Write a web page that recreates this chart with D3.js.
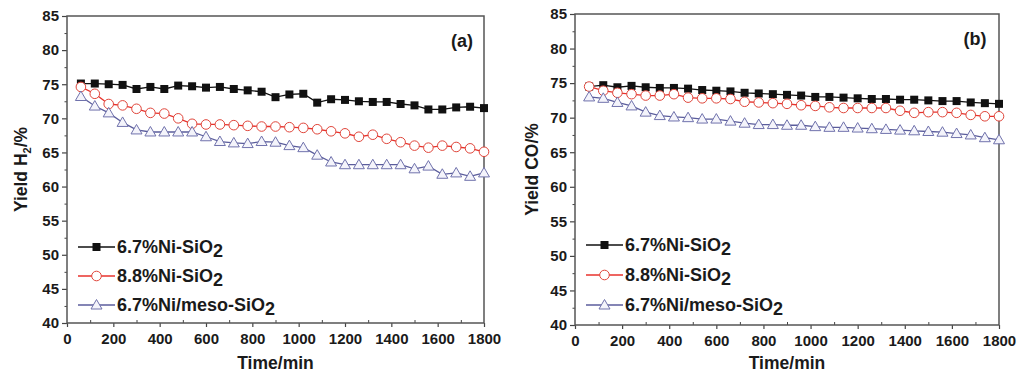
<!DOCTYPE html>
<html>
<head>
<meta charset="utf-8">
<script src="https://cdn.jsdelivr.net/npm/d3@7"></script>
<style>
  body { margin: 0; background: #fff; }
  svg { display: block; font-family: "Liberation Sans", Arial, sans-serif; font-weight: bold; }
</style>
</head>
<body>
<div id="plot"></div>
<script>
// time points (min)
var times = [60, 120, 180, 240, 300, 360, 420, 480, 540, 600, 660, 720, 780, 840, 900,
  960, 1020, 1080, 1140, 1200, 1260, 1320, 1380, 1440, 1500, 1560, 1620, 1680, 1740, 1800];

var seriesNames = ["6.7%Ni-SiO", "8.8%Ni-SiO", "6.7%Ni/meso-SiO"];

// panel (a) H2 yield
var h2Ni67 = [75.1, 75.1, 75.0, 74.9, 74.3, 74.6, 74.3, 74.8, 74.7, 74.5, 74.6, 74.3, 74.1, 73.9, 73.1,
  73.5, 73.6, 72.3, 72.8, 72.7, 72.5, 72.4, 72.4, 72.1, 71.9, 71.3, 71.3, 71.6, 71.7, 71.5];
var h2Ni88 = [74.6, 73.6, 72.1, 71.9, 71.4, 70.8, 70.7, 70.0, 69.2, 69.1, 69.1, 69.0, 68.9, 68.8, 68.8,
  68.7, 68.6, 68.4, 68.1, 67.8, 67.3, 67.6, 67.0, 66.5, 66.0, 65.7, 66.0, 65.8, 65.6, 65.1];
var h2Meso = [73.2, 71.8, 70.8, 69.4, 68.3, 68.0, 68.0, 68.0, 68.0, 67.3, 66.6, 66.4, 66.3, 66.6, 66.5,
  66.0, 65.7, 64.6, 63.6, 63.2, 63.2, 63.2, 63.2, 63.2, 62.6, 63.0, 61.8, 62.0, 61.5, 62.0];

// panel (b) CO yield
var coNi67 = [74.5, 74.7, 74.4, 74.6, 74.4, 74.3, 74.3, 74.2, 74.0, 73.9, 73.8, 73.6, 73.5, 73.4, 73.3,
  73.2, 73.0, 73.0, 72.9, 72.8, 72.7, 72.7, 72.6, 72.6, 72.5, 72.4, 72.4, 72.2, 72.1, 72.0];
var coNi88 = [74.5, 73.9, 73.6, 73.4, 73.2, 73.2, 73.4, 72.9, 72.8, 72.8, 72.7, 72.3, 72.2, 72.1, 72.0,
  71.8, 71.7, 71.5, 71.4, 71.4, 71.4, 71.4, 71.0, 70.7, 70.8, 70.8, 70.7, 70.4, 70.2, 70.2];
var coMeso = [73.0, 72.8, 72.2, 71.7, 70.8, 70.3, 70.1, 70.0, 69.8, 69.8, 69.5, 69.2, 69.0, 69.0, 68.9,
  68.9, 68.7, 68.6, 68.6, 68.5, 68.4, 68.3, 68.2, 68.1, 68.0, 67.9, 67.7, 67.5, 67.1, 66.8];

var xTicks = [0, 200, 400, 600, 800, 1000, 1200, 1400, 1600, 1800];
var yTicks = [40, 45, 50, 55, 60, 65, 70, 75, 80, 85];

var styles = [
  { line: "#111111", stroke: "#111111", fill: "#111111", shape: "square" },
  { line: "#e8322c", stroke: "#e0453a", fill: "#ffffff", shape: "circle" },
  { line: "#5b5d9c", stroke: "#7072ac", fill: "#f4f4fb", shape: "triangle" }
];

var svg = d3.select("#plot").append("svg")
  .attr("width", 1024)
  .attr("height", 378);

var drawMarker = function (g, st, cx, cy) {
  if (st.shape === "square") {
    g.append("rect").attr("x", cx - 4).attr("y", cy - 4).attr("width", 8).attr("height", 8)
      .attr("fill", st.fill);
  } else if (st.shape === "circle") {
    g.append("circle").attr("cx", cx).attr("cy", cy).attr("r", 4.8)
      .attr("fill", st.fill).attr("stroke", st.stroke).attr("stroke-width", 1);
  } else {
    g.append("path")
      .attr("d", "M" + cx + "," + (cy - 5.5) + "L" + (cx + 5.5) + "," + (cy + 4) + "L" + (cx - 5.5) + "," + (cy + 4) + "Z")
      .attr("fill", st.fill).attr("stroke", st.stroke).attr("stroke-width", 1);
  }
};

var drawPanel = function (cfg) {
  var x = d3.scaleLinear().domain([0, 1800]).range([cfg.left, cfg.right]);
  var y = d3.scaleLinear().domain([40, 85]).range([cfg.bottom, cfg.top]);
  var g = svg.append("g");

  // minor ticks
  var yMinor = yTicks.slice(0, -1).map(function (t) { return t + 2.5; });
  var xMinor = xTicks.slice(0, -1).map(function (t) { return t + 100; });

  g.append("g").attr("transform", "translate(" + cfg.left + ",0)")
    .call(d3.axisLeft(y).tickValues(yMinor).tickSize(2.5).tickFormat(""))
    .call(function (a) { a.select(".domain").remove(); a.selectAll("line").attr("stroke", "#444"); });
  g.append("g").attr("transform", "translate(0," + cfg.bottom + ")")
    .call(d3.axisTop(x).tickValues(xMinor).tickSize(3).tickFormat(""))
    .call(function (a) { a.select(".domain").remove(); a.selectAll("line").attr("stroke", "#444"); });

  var yAxis = g.append("g").attr("transform", "translate(" + cfg.left + ",0)")
    .call(d3.axisLeft(y).tickValues(yTicks).tickSize(5).tickPadding(3).tickFormat(d3.format("d")));
  var xAxis = g.append("g").attr("transform", "translate(0," + cfg.bottom + ")")
    .call(d3.axisBottom(x).tickValues(xTicks).tickSize(4).tickPadding(6).tickFormat(d3.format("d")));

  [yAxis, xAxis].forEach(function (a) {
    a.select(".domain").remove();
    a.selectAll("line").attr("stroke", "#444").attr("stroke-width", 1.2);
    a.selectAll("text").attr("fill", "#1a1a1a").style("font-size", "15px")
      .style("font-family", "'Liberation Sans', Arial, sans-serif").style("font-weight", "bold");
  });

  // frame
  g.append("rect")
    .attr("x", cfg.left).attr("y", cfg.top)
    .attr("width", cfg.right - cfg.left).attr("height", cfg.bottom - cfg.top)
    .attr("fill", "none").attr("stroke", "#555").attr("stroke-width", 1.5);

  // series
  var line = d3.line()
    .x(function (d, i) { return x(times[i]); })
    .y(function (d) { return y(d); });

  cfg.series.forEach(function (vals, k) {
    var st = styles[k];
    g.append("path").datum(vals)
      .attr("d", line)
      .attr("fill", "none").attr("stroke", st.line).attr("stroke-width", 1.3);
    var mg = g.append("g");
    vals.forEach(function (v, i) { drawMarker(mg, st, x(times[i]), y(v)); });
  });

  // panel label
  g.append("text").attr("x", cfg.labelX).attr("y", cfg.top + 31)
    .attr("text-anchor", "middle").style("font-size", "18px").attr("fill", "#1a1a1a")
    .text(cfg.label);

  // legend
  seriesNames.forEach(function (name, k) {
    var st = styles[k];
    var ly = cfg.legendY[k];
    var lx = cfg.left + 11;
    g.append("line").attr("x1", lx).attr("x2", lx + 37).attr("y1", ly).attr("y2", ly)
      .attr("stroke", st.line).attr("stroke-width", 1.5);
    drawMarker(g, st, lx + 18.5, ly);
    var t = g.append("text").attr("x", lx + 39).attr("y", ly + 6)
      .style("font-size", "18px").attr("fill", "#1a1a1a");
    t.append("tspan").text(name);
    t.append("tspan").attr("dy", 4).style("font-size", "18px").text("2");
  });

  // x axis title
  g.append("text").attr("x", (cfg.left + cfg.right) / 2).attr("y", 369)
    .attr("text-anchor", "middle").style("font-size", "17.5px").attr("fill", "#1a1a1a")
    .text("Time/min");

  // y axis title
  var yt = g.append("text")
    .attr("transform", "translate(" + cfg.yTitleX + "," + ((cfg.top + cfg.bottom) / 2) + ") rotate(-90)")
    .attr("text-anchor", "middle").style("font-size", "17.5px").attr("fill", "#1a1a1a");
  cfg.yTitle(yt);
};

drawPanel({
  left: 67, right: 484, top: 16, bottom: 323,
  series: [h2Ni67, h2Ni88, h2Meso],
  label: "(a)", labelX: 462,
  legendY: [247, 276, 305],
  yTitleX: 27,
  yTitle: function (t) {
    t.append("tspan").text("Yield H");
    t.append("tspan").attr("dy", 4).style("font-size", "11px").text("2");
    t.append("tspan").attr("dy", -4).text("/%");
  }
});

drawPanel({
  left: 575, right: 999, top: 14, bottom: 325,
  series: [coNi67, coNi88, coMeso],
  label: "(b)", labelX: 975,
  legendY: [245, 275, 305],
  yTitleX: 538,
  yTitle: function (t) { t.text("Yield CO/%"); }
});
</script>
</body>
</html>
